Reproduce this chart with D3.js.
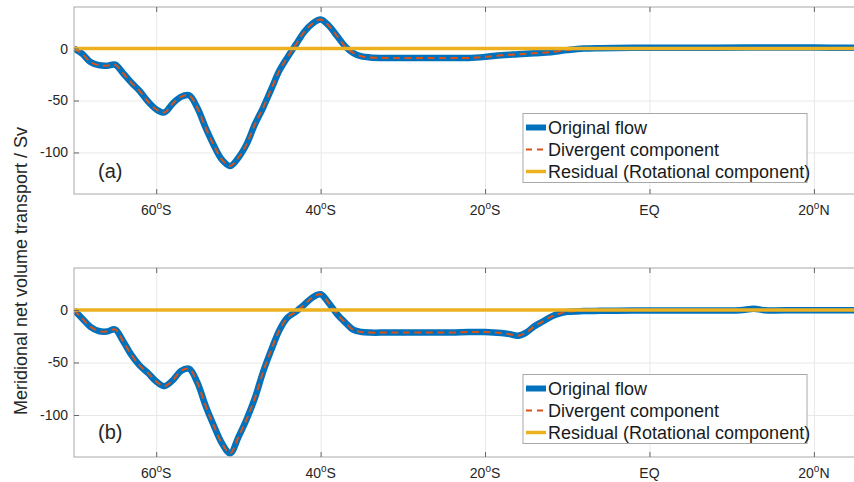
<!DOCTYPE html>
<html>
<head>
<meta charset="utf-8">
<script src="https://cdn.jsdelivr.net/npm/d3@7"></script>
<style>
  body { margin: 0; background: #fff; }
  svg { display: block; font-family: "Liberation Sans", Arial, Helvetica, sans-serif; }
</style>
</head>
<body>
<svg width="854" height="482"></svg>
<script>
// ---- data (latitude in degrees, negative = south; transport in Sv) ----
const latA = [-70, -69, -68, -67, -66, -65, -64, -63, -62, -61, -60, -59, -58, -57, -56, -55, -54, -53, -52, -51,
  -50, -49, -48, -47, -46, -45, -44, -43, -42, -41, -40, -39, -38, -37, -36, -35, -34,
  -32, -30, -28, -26, -24, -22, -20, -18, -16, -14, -12, -10, -8, -6, -4, -2, 0, 4, 8, 12, 16, 20, 25];
const origA = [0, -5, -13, -16, -16.5, -15.5, -24, -33, -41, -51, -58.5, -61.5, -53, -46.5, -45, -57, -76, -93, -107, -113,
  -105, -92, -73, -57, -39, -21, -8, 4, 16, 24, 28, 22, 12, 2, -4.5, -7.5, -8.5,
  -9, -9, -9, -9, -9, -9, -8, -6.5, -5.5, -4.5, -3.5, -1.5, 0, 0.4, 0.6, 0.7, 0.7, 0.7, 0.8, 1, 1, 0.9, 0.8];
const divA = [0, -5, -13, -16, -16.5, -15.5, -24, -33, -41, -51, -58.5, -61.5, -53, -46.5, -45, -57, -76, -93, -107, -113,
  -105, -92, -73, -57, -39, -21, -8, 4, 16, 24, 28, 22, 12, 2, -4.5, -7.5, -8.5,
  -9, -9, -9, -9, -9, -9, -8, -6.5, -5.5, -4.5, -3.5, -1.5, -0.3, 0, 0, 0, 0, 0, 0, 0, 0, 0, 0];

const latB = [-70, -69, -68, -67, -66, -65, -64, -63, -62, -61, -60, -59, -58, -57, -56, -55, -54, -53, -52, -51,
  -50, -49, -48, -47, -46, -45, -44, -43, -42, -41, -40, -39, -38, -37, -36, -35, -34,
  -32, -30, -28, -26, -24, -22, -20, -18, -17, -16, -15, -14, -13, -12, -11, -10, -8, -6, -4, -2, 0, 4, 8, 11, 12.7, 14, 18, 22, 25];
const origB = [0, -8, -16, -20, -20.5, -18.5, -30, -43, -53, -60, -68, -72.5, -67, -58, -56, -69, -91, -110, -127, -136.5,
  -121, -104, -84, -59, -38, -19, -7, -1.5, 5, 12, 15, 6.5, -4, -12, -19, -21, -21.5,
  -21.5, -21.5, -21.5, -21.5, -21.5, -21, -21, -22, -23, -24.5, -21.5, -15.5, -11, -6.5, -3.5, -1.8,
  -1, -0.8, -0.6, -0.5, -0.5, -0.5, -0.4, -0.3, 1.2, -0.2, -0.2, -0.2, -0.2];
const divB = [0, -8, -16, -20, -20.5, -18.5, -30, -43, -53, -60, -68, -72.5, -67, -58, -56, -69, -91, -110, -127, -136.5,
  -121, -104, -84, -59, -38, -19, -7, -1.5, 5, 12, 15, 6.5, -4, -12, -19, -21, -21.5,
  -21.5, -21.5, -21.5, -21.5, -21.5, -21, -21, -22, -23, -24.5, -21.5, -15.5, -11, -6.5, -3.5, -1.8,
  -0.3, 0, 0, 0, 0, 0, 0, 0, 0, 0, 0, 0, 0];

const latRes = [-70, -40, -10, 25];
const resA = [0, 0, 0, 0];
const resB = [0, 0, 0, 0];

const xTicks = [-60, -40, -20, 0, 20];
const xTickLabels = [["60", "S"], ["40", "S"], ["20", "S"], ["EQ"], ["20", "N"]];
const yTicks = [-100, -50, 0];
const seriesNames = ["Original flow", "Divergent component", "Residual (Rotational component)"];
const panelLabels = ["(a)", "(b)"];

// ---- layout ----
const svg = d3.select("svg");
const left = 74, right = 855;
const colors = { orig: "#0072BD", div: "#D95319", res: "#EDB120" };

const x = d3.scaleLinear().domain([-70, 25]).range([left, right]);

const panels = [
  { top: 7, bottom: 194, lat: latA, orig: origA, div: divA, res: resA },
  { top: 268, bottom: 457, lat: latB, orig: origB, div: divB, res: resB }
];

panels.forEach((p, i) => {
  const y = d3.scaleLinear().domain([-140, 40]).range([p.bottom, p.top]);
  const g = svg.append("g");

  // grid
  g.append("g")
    .attr("transform", `translate(0,${p.bottom})`)
    .call(d3.axisBottom(x).tickValues(xTicks).tickSize(-(p.bottom - p.top)).tickFormat(""))
    .call(a => a.select(".domain").remove())
    .call(a => a.selectAll("line").attr("stroke", "#e8e8e8"));
  g.append("g")
    .attr("transform", `translate(${left},0)`)
    .call(d3.axisLeft(y).tickValues(yTicks).tickSize(-(right - left)).tickFormat(""))
    .call(a => a.select(".domain").remove())
    .call(a => a.selectAll("line").attr("stroke", "#e8e8e8"));

  // lines
  svg.append("clipPath").attr("id", "clip" + i)
    .append("rect")
    .attr("x", left).attr("y", p.top)
    .attr("width", right - left).attr("height", p.bottom - p.top);

  const line = d3.line()
    .x(d => x(d[0]))
    .y(d => y(d[1]))
    .curve(d3.curveCatmullRom);

  const lines = g.append("g").attr("clip-path", `url(#clip${i})`);
  lines.append("path")
    .attr("d", line(d3.zip(p.lat, p.orig)))
    .attr("fill", "none")
    .attr("stroke", colors.orig)
    .attr("stroke-width", 6.5)
    .attr("stroke-linejoin", "round");
  lines.append("path")
    .attr("d", line(d3.zip(p.lat, p.div)))
    .attr("fill", "none")
    .attr("stroke", colors.div)
    .attr("stroke-width", 2)
    .attr("stroke-dasharray", "7,4.5");
  lines.append("path")
    .attr("d", line(d3.zip(latRes, p.res)))
    .attr("fill", "none")
    .attr("stroke", colors.res)
    .attr("stroke-width", 3.5);

  // box
  g.append("rect")
    .attr("x", left).attr("y", p.top)
    .attr("width", right - left).attr("height", p.bottom - p.top)
    .attr("fill", "none")
    .attr("stroke", "#a8a8a8");

  // tick marks (inward)
  g.append("g")
    .attr("transform", `translate(0,${p.bottom})`)
    .call(d3.axisBottom(x).tickValues(xTicks).tickSize(-5).tickFormat(""))
    .call(a => a.select(".domain").remove())
    .call(a => a.selectAll("line").attr("stroke", "#666"));
  g.append("g")
    .attr("transform", `translate(0,${p.top})`)
    .call(d3.axisTop(x).tickValues(xTicks).tickSize(-5).tickFormat(""))
    .call(a => a.select(".domain").remove())
    .call(a => a.selectAll("line").attr("stroke", "#666"));
  g.append("g")
    .attr("transform", `translate(${left},0)`)
    .call(d3.axisLeft(y).tickValues(yTicks).tickSize(-5).tickPadding(6).tickFormat(d => String(d)))
    .call(a => a.select(".domain").remove())
    .call(a => a.selectAll("line").attr("stroke", "#666"))
    .attr("font-size", 14)
    .attr("font-family", null)
    .call(a => a.selectAll("text").attr("fill", "#262626"));

  // x tick labels with superscript o
  xTicks.forEach((t, k) => {
    const parts = xTickLabels[k];
    const txt = g.append("text")
      .attr("x", x(t))
      .attr("y", p.bottom + 21)
      .attr("text-anchor", "middle")
      .attr("font-size", 14)
      .attr("fill", "#262626");
    if (parts.length === 1) {
      txt.text(parts[0]);
    } else {
      txt.append("tspan").text(parts[0]);
      txt.append("tspan").attr("font-size", 10).attr("dy", -6).text("o");
      txt.append("tspan").attr("dy", 6).text(parts[1]);
    }
  });

  // panel label
  g.append("text")
    .attr("x", 98)
    .attr("y", p.top + 171)
    .attr("font-size", 20)
    .attr("fill", "#262626")
    .text(panelLabels[i]);

  // legend
  const lg = g.append("g").attr("transform", `translate(523,${p.top + 106.5})`);
  lg.append("rect")
    .attr("width", 284).attr("height", 69)
    .attr("fill", "#fff")
    .attr("stroke", "#a8a8a8");
  const samples = [
    { color: colors.orig, width: 6, dash: null },
    { color: colors.div, width: 2, dash: "6,5" },
    { color: colors.res, width: 3.5, dash: null }
  ];
  seriesNames.forEach((name, k) => {
    const ry = 14 + k * 22;
    lg.append("line")
      .attr("x1", 3).attr("x2", 23)
      .attr("y1", ry).attr("y2", ry)
      .attr("stroke", samples[k].color)
      .attr("stroke-width", samples[k].width)
      .attr("stroke-dasharray", samples[k].dash);
    lg.append("text")
      .attr("x", 25)
      .attr("y", ry)
      .attr("dy", "0.35em")
      .attr("font-size", 18)
      .attr("fill", "#1a1a1a")
      .text(name);
  });
});

// shared y-axis label
svg.append("text")
  .attr("transform", "rotate(-90)")
  .attr("x", -271)
  .attr("y", 27)
  .attr("text-anchor", "middle")
  .attr("font-size", 18)
  .attr("fill", "#262626")
  .text("Meridional net volume transport / Sv");
</script>
</body>
</html>
